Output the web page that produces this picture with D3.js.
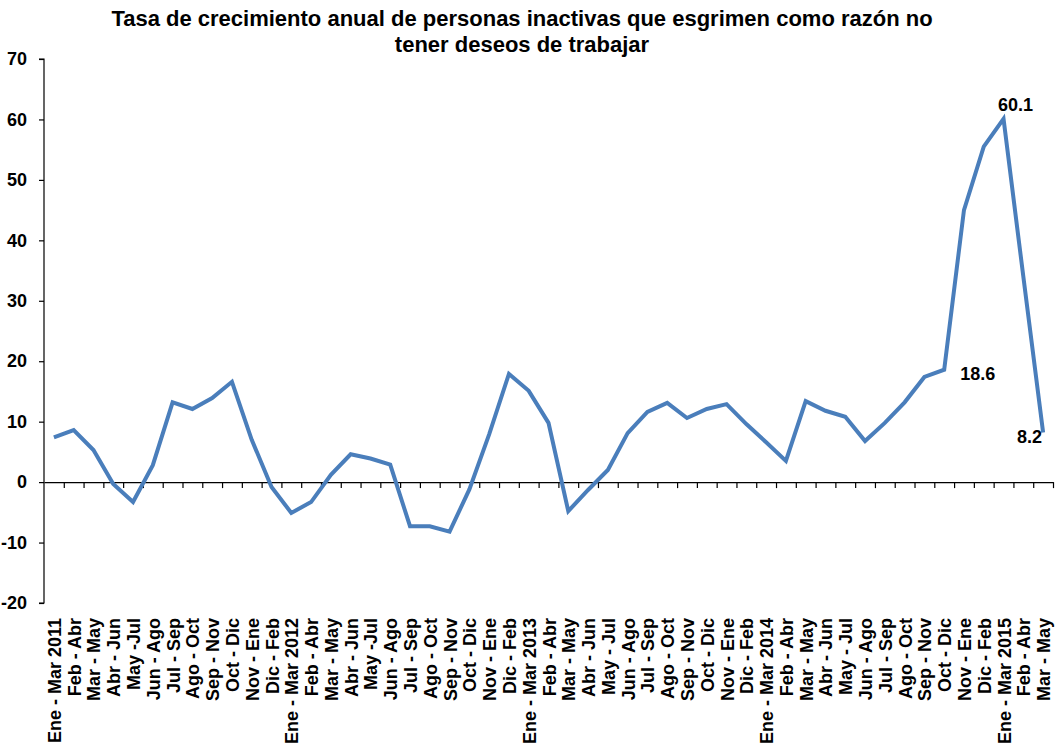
<!DOCTYPE html>
<html>
<head>
<meta charset="utf-8">
<script src="https://cdn.jsdelivr.net/npm/d3@7"></script>
<style>
  body { margin: 0; background: #fff; }
  svg { font-family: "Liberation Sans", Arial, Helvetica, sans-serif; font-weight: bold; }
</style>
</head>
<body>
<div id="chart"></div>
<script>
const periods = [
  'Ene - Mar 2011', 'Feb - Abr', 'Mar - May', 'Abr - Jun', 'May -Jul', 'Jun - Ago', 'Jul - Sep',
  'Ago - Oct', 'Sep - Nov', 'Oct - Dic', 'Nov - Ene', 'Dic - Feb',
  'Ene - Mar 2012', 'Feb - Abr', 'Mar - May', 'Abr - Jun', 'May -Jul', 'Jun - Ago', 'Jul - Sep',
  'Ago - Oct', 'Sep - Nov', 'Oct - Dic', 'Nov - Ene', 'Dic - Feb',
  'Ene - Mar 2013', 'Feb - Abr', 'Mar - May', 'Abr - Jun', 'May - Jul', 'Jun - Ago', 'Jul - Sep',
  'Ago - Oct', 'Sep - Nov', 'Oct - Dic', 'Nov - Ene', 'Dic - Feb',
  'Ene - Mar 2014', 'Feb - Abr', 'Mar - May', 'Abr - Jun', 'May - Jul', 'Jun - Ago', 'Jul - Sep',
  'Ago - Oct', 'Sep - Nov', 'Oct - Dic', 'Nov - Ene', 'Dic - Feb',
  'Ene - Mar 2015', 'Feb - Abr', 'Mar - May',
];
const growth = [
  7.4, 8.6, 5.3, -0.3, -3.3, 2.8, 13.2, 12.1, 13.9, 16.6, 7.0, -0.8,
  -5.1, -3.3, 1.2, 4.6, 3.9, 2.9, -7.3, -7.3, -8.2, -1.2, 7.9, 17.9,
  15.1, 9.8, -4.8, -1.3, 2.0, 8.1, 11.6, 13.1, 10.6, 12.1, 12.9, 9.6,
  6.6, 3.5, 13.4, 11.8, 10.8, 6.8, 9.8, 13.2, 17.4, 18.6, 45.0, 55.5,
  60.1, 34.0, 8.2,
];
const yTicks = [-20, -10, 0, 10, 20, 30, 40, 50, 60, 70];
// labelled points: index, text, placement
const callouts = [
  { i: 45, text: '18.6', pos: 'right' },
  { i: 48, text: '60.1', pos: 'top' },
  { i: 50, text: '8.2', pos: 'left' },
];

const width = 1056;
const height = 756;
const margin = { top: 59, right: 3, bottom: 153, left: 44 };

const svg = d3.select('#chart')
  .append('svg')
  .attr('width', width)
  .attr('height', height);

const titleLines = ['Tasa de crecimiento anual de personas inactivas que esgrimen como razón no',
  'tener deseos de trabajar'];
svg.append('g')
  .selectAll('text')
  .data(titleLines)
  .enter()
  .append('text')
  .attr('x', 522)
  .attr('y', (d, i) => 26 + i * 26)
  .attr('text-anchor', 'middle')
  .style('font-size', '22px')
  .text(d => d);

const x = d3.scaleBand()
  .domain(d3.range(periods.length))
  .range([margin.left, width - margin.right])
  .padding(0);
const y = d3.scaleLinear()
  .domain([-20, 70])
  .range([height - margin.bottom, margin.top]);
const cx = i => x(i) + x.bandwidth() / 2;

// y axis
const yAxis = svg.append('g')
  .attr('transform', `translate(${margin.left},0)`)
  .call(d3.axisLeft(y).tickValues(yTicks).tickSize(5).tickPadding(12).tickFormat(d => String(d)));
yAxis.selectAll('path, line').attr('stroke', '#000').attr('stroke-width', 1.2);
yAxis.select('.domain').attr('d', `M-5,${y(70)}H0V${y(-20)}H-5`);
yAxis.selectAll('text')
  .style('font-size', '18px')
  .style('font-weight', 'bold')
  .attr('fill', '#000')
  .attr('font-family', '"Liberation Sans", Arial, sans-serif');

// x axis at zero, ticks at category boundaries
const xb = d3.scaleLinear()
  .domain([0, periods.length])
  .range([margin.left, width - margin.right]);
const xAxis = svg.append('g')
  .attr('transform', `translate(0,${y(0)})`)
  .call(d3.axisBottom(xb).tickValues(d3.range(1, periods.length + 1)).tickSize(6).tickSizeOuter(0).tickFormat(''));
xAxis.selectAll('path, line').attr('stroke', '#000').attr('stroke-width', 1.2);

// category labels at the bottom
svg.append('g')
  .selectAll('text')
  .data(periods)
  .enter()
  .append('text')
  .attr('transform', (d, i) => `translate(${cx(i) + 7},${618}) rotate(-90)`)
  .attr('text-anchor', 'end')
  .style('font-size', '18px')
  .text(d => d);

// line
const line = d3.line()
  .x((d, i) => cx(i))
  .y(d => y(d));
svg.append('path')
  .datum(growth)
  .attr('fill', 'none')
  .attr('stroke', '#4a7ebb')
  .attr('stroke-width', 4)
  .attr('stroke-linejoin', 'miter')
  .attr('d', line);

// data labels
svg.append('g')
  .selectAll('text')
  .data(callouts)
  .enter()
  .append('text')
  .attr('x', (d) => {
    if (d.pos === 'right') return cx(d.i) + 16;
    if (d.pos === 'left') return cx(d.i) - 1;
    return cx(d.i) + 12;
  })
  .attr('y', (d) => {
    if (d.pos === 'top') return y(growth[d.i]) - 8;
    return y(growth[d.i]) + 10;
  })
  .attr('text-anchor', (d) => {
    if (d.pos === 'right') return 'start';
    if (d.pos === 'left') return 'end';
    return 'middle';
  })
  .style('font-size', '18px')
  .text(d => d.text);
</script>
</body>
</html>
